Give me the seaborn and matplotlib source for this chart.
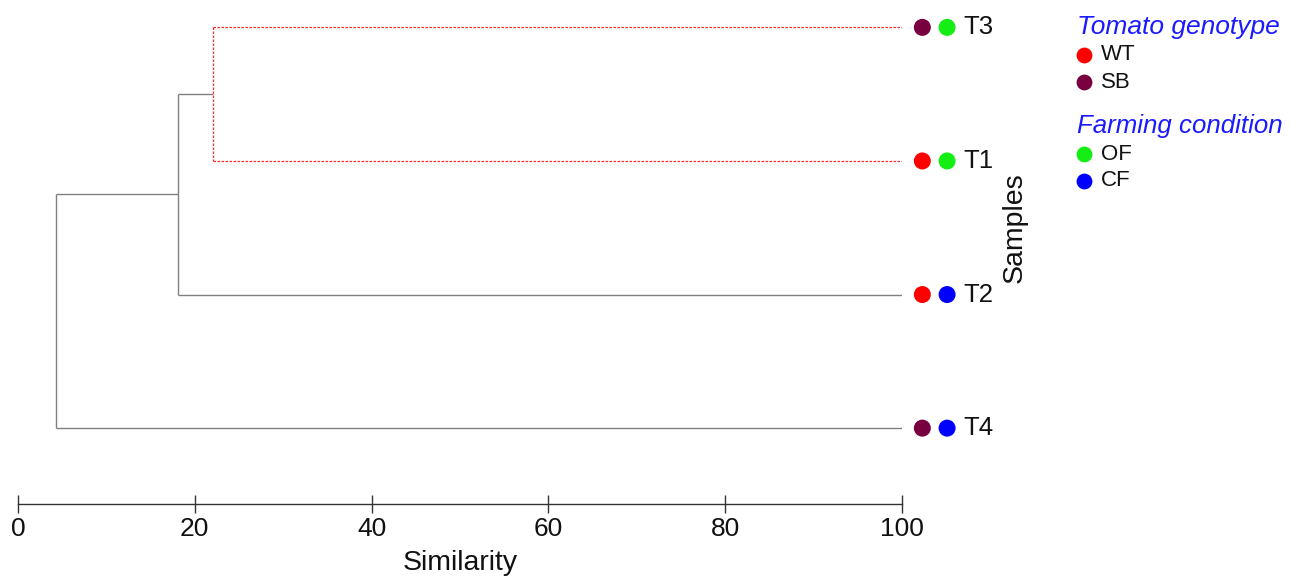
import matplotlib
matplotlib.use("Agg")
import matplotlib.pyplot as plt
import seaborn as sns
import pandas as pd

# Samples, top to bottom, with their attributes
samples = ["T3", "T1", "T2", "T4"]
genotype = ["SB", "WT", "WT", "SB"]
condition = ["OF", "OF", "CF", "CF"]

# Agglomeration steps: (left child, right child, similarity at merge)
merge_left = ["T3", "C1", "C2"]
merge_right = ["T1", "T2", "T4"]
merge_similarity = [22.1, 18.1, 4.3]
merge_names = ["C1", "C2", "C3"]
highlight_cluster = "C1"

genotype_levels = ["WT", "SB"]
genotype_colors = ["#FF0000", "#780040"]
condition_levels = ["OF", "CF"]
condition_colors = ["#14EE14", "#0000FF"]

xticks = [0, 20, 40, 60, 80, 100]

sns.set_theme(style="white")
plt.rcParams["font.family"] = ["Liberation Sans", "DejaVu Sans"]

W, H = 1291, 576
fig = plt.figure(figsize=(W / 100, H / 100), dpi=100)
ax = fig.add_axes([18 / W, (H - 504) / H, 884 / W, 494 / H])

# Leaf positions (top leaf highest)
ypos = {s: len(samples) - 1 - i for i, s in enumerate(samples)}
xpos = {s: 100.0 for s in samples}
tree_color = "#808080"
lw = 1.0

for name, a, b, h in zip(merge_names, merge_left, merge_right, merge_similarity):
    inside = name == highlight_cluster
    col = "#FF2A2A" if inside else tree_color
    ls = (0, (2.0, 1.2)) if inside else "-"
    lwi = 0.9 if inside else lw
    for child in (a, b):
        ax.plot([h, xpos[child]], [ypos[child], ypos[child]], color=col,
                lw=lwi, ls=ls, solid_capstyle="butt", dash_capstyle="butt")
    ax.plot([h, h], [ypos[a], ypos[b]], color=col, lw=lwi, ls=ls,
            solid_capstyle="butt", dash_capstyle="butt")
    xpos[name] = h
    ypos[name] = (ypos[a] + ypos[b]) / 2

# Leaf annotations: genotype dot, condition dot, sample label
leaves = pd.DataFrame({
    "sample": samples,
    "genotype": genotype,
    "condition": condition,
    "y": [ypos[s] for s in samples],
})
leaves["xg"] = 102.3
leaves["xc"] = 105.1
sns.scatterplot(data=leaves, x="xg", y="y", hue="genotype",
                hue_order=genotype_levels, palette=genotype_colors,
                s=150, linewidth=0, legend=False, clip_on=False, ax=ax)
sns.scatterplot(data=leaves, x="xc", y="y", hue="condition",
                hue_order=condition_levels, palette=condition_colors,
                s=150, linewidth=0, legend=False, clip_on=False, ax=ax)
for _, r in leaves.iterrows():
    ax.text(106.9, r["y"], r["sample"], fontsize=18.5, va="center",
            ha="left", color="#111111", clip_on=False)

ax.set_xlim(0, 100)
ax.set_ylim(-0.568, 3.13)
ax.set_yticks([])
ax.set_xticks(xticks)
ax.set_xticklabels([str(t) for t in xticks])
ax.tick_params(axis="x", direction="inout", length=13, width=1.0,
               color="#333333", labelsize=19, pad=3, bottom=True,
               labelcolor="#111111")
for side in ("top", "right", "left"):
    ax.spines[side].set_visible(False)
ax.spines["bottom"].set_color("#333333")
ax.spines["bottom"].set_linewidth(1.0)
ax.set_xlabel("")
ax.set_ylabel("")
ax.grid(False)

fig.text(460 / W, 1 - 563 / H, "Similarity", fontsize=20.5, ha="center",
         va="center", color="#111111")
fig.text(1015 / W, 1 - 228 / H, "Samples", fontsize=20.5, rotation=90,
         ha="center", va="center", color="#111111")

# Legend panel drawn in figure pixel space
lax = fig.add_axes([0, 0, 1, 1], facecolor="none")
lax.set_xlim(0, W)
lax.set_ylim(H, 0)
lax.axis("off")
title_color = "#1A1AFF"
blocks = [("Tomato genotype", genotype_levels, genotype_colors, 27, 19.0),
          ("Farming condition", condition_levels, condition_colors, 126, 18.6)]
for title, levels, colors, y0, fs in blocks:
    lax.text(1077, y0, title, fontsize=fs, style="italic", color=title_color,
             ha="left", va="center")
    for i, (lev, c) in enumerate(zip(levels, colors)):
        yy = y0 + 28 + 27 * i
        lax.scatter([1084], [yy], s=130, color=c, linewidth=0)
        lax.text(1101, yy, lev, fontsize=16, ha="left", va="center",
                 color="#111111")

fig.savefig("out.png", dpi=100, facecolor="white")
